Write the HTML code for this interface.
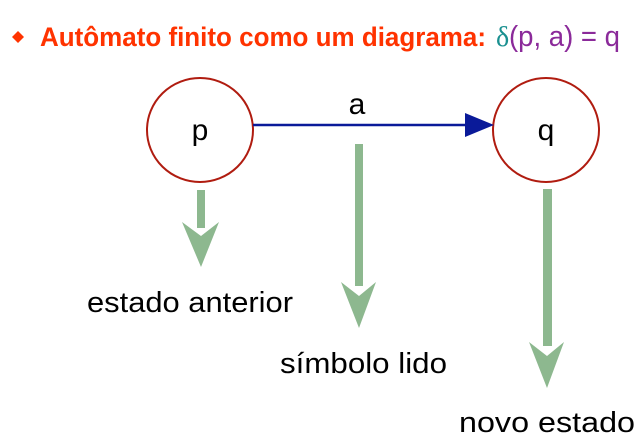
<!DOCTYPE html>
<html><head><meta charset="utf-8"><style>html,body{margin:0;padding:0;background:#fff;width:644px;height:448px;overflow:hidden}</style></head>
<body>
<svg width="644" height="448" viewBox="0 0 644 448" xmlns="http://www.w3.org/2000/svg" font-family="Liberation Sans, Arial, sans-serif">
<polygon points="18,31 24,37 18,43 12,37" fill="#ff3300"/>
<text x="40" y="46" font-size="27" font-weight="bold" fill="#ff3300" textLength="446" lengthAdjust="spacingAndGlyphs">Autômato finito como um diagrama:</text>
<text x="496" y="46" font-size="28" fill="#1a9090" font-family="Liberation Serif, serif">δ</text>
<text x="509" y="46" font-size="29" fill="#8b2a9a" textLength="111" lengthAdjust="spacingAndGlyphs">(p, a) = q</text>
<ellipse cx="200" cy="130" rx="53" ry="52" fill="none" stroke="#b01c10" stroke-width="2"/>
<ellipse cx="546" cy="130" rx="53" ry="52" fill="none" stroke="#b01c10" stroke-width="2"/>
<text x="200" y="140" font-size="30" text-anchor="middle">p</text>
<text x="546" y="140" font-size="30" text-anchor="middle">q</text>
<line x1="253" y1="125" x2="468" y2="125" stroke="#0a1a99" stroke-width="2.5"/>
<polygon points="465,113 494,125 465,137" fill="#0a1a99"/>
<text x="357" y="114" font-size="30" text-anchor="middle">a</text>
<g fill="#8db88f">
<rect x="197" y="190" width="8" height="38"/>
<polygon points="182,222 201,236 219,222 201,267"/>
<rect x="355" y="144" width="8" height="142"/>
<polygon points="341,282 359,296 376,282 359,328"/>
<rect x="543" y="189" width="9" height="157"/>
<polygon points="529,342 547,356 564,342 547,388"/>
</g>
<text x="87" y="312" font-size="29" textLength="206" lengthAdjust="spacingAndGlyphs">estado anterior</text>
<text x="280" y="373" font-size="29" textLength="167" lengthAdjust="spacingAndGlyphs">símbolo lido</text>
<text x="459" y="432" font-size="29" textLength="176" lengthAdjust="spacingAndGlyphs">novo estado</text>
</svg>
</body></html>
